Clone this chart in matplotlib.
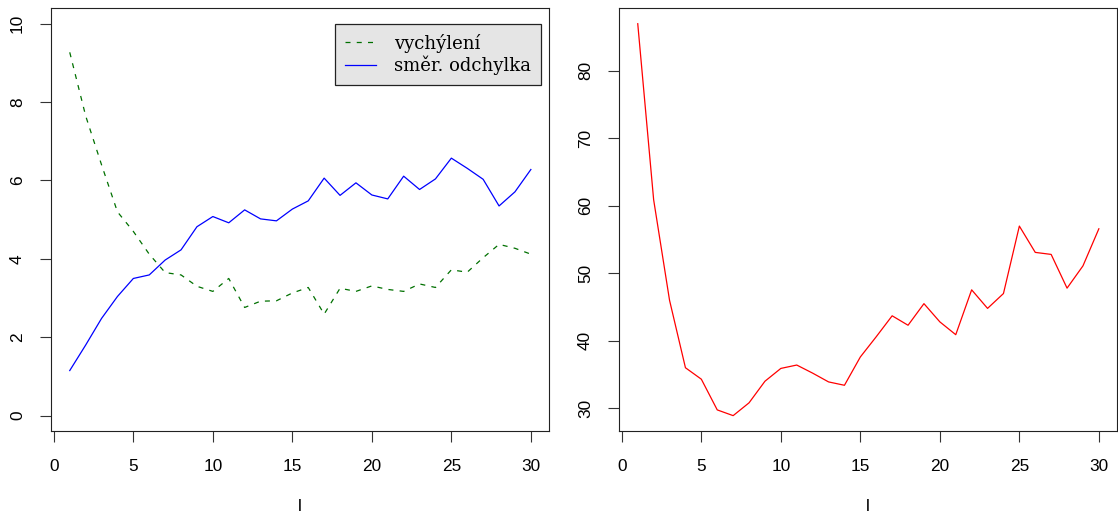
import numpy as np
import matplotlib
matplotlib.use("Agg")
import matplotlib.pyplot as plt

# data
l = np.arange(1, 31)
vychyleni = [9.27, 7.65, 6.4, 5.2, 4.7, 4.12, 3.65, 3.59, 3.3, 3.17,
             3.5, 2.76, 2.92, 2.93, 3.13, 3.27, 2.59, 3.25, 3.17, 3.31,
             3.22, 3.17, 3.36, 3.27, 3.72, 3.66, 4.03, 4.37, 4.27, 4.12]
odchylka = [1.15, 1.8, 2.48, 3.04, 3.5, 3.59, 3.97, 4.23, 4.82, 5.08,
            4.92, 5.25, 5.02, 4.97, 5.27, 5.48, 6.06, 5.62, 5.94, 5.63,
            5.53, 6.11, 5.77, 6.04, 6.57, 6.31, 6.03, 5.35, 5.71, 6.28]
prava = [87.0, 60.9, 46.0, 36.0, 34.3, 29.75, 28.9, 30.8, 34.0, 35.9,
         36.4, 35.2, 33.9, 33.4, 37.6, 40.6, 43.7, 42.3, 45.5, 42.8,
         40.9, 47.55, 44.8, 47.0, 57.0, 53.1, 52.8, 47.8, 51.1, 56.6]

plt.rcParams["font.family"] = ["Liberation Sans", "DejaVu Sans"]


def rlim(lo, hi):
    # R-style 4% padding
    d = (hi - lo) * 0.04
    return lo - d, hi + d


def style(ax):
    for s in ax.spines.values():
        s.set_linewidth(0.8)
        s.set_color("#222222")
    ax.tick_params(length=7.9, width=0.8, color="#333333", labelsize=12.4)
    ax.tick_params(axis="x", pad=12)
    ax.tick_params(axis="y", pad=11)
    for t in ax.get_yticklabels():
        t.set_rotation(90)
        t.set_va("center")
    ax.set_xlim(*rlim(1, 30))
    ax.set_xticks([0, 5, 10, 15, 20, 25, 30])
    ax.set_xlabel("l", fontsize=12.4, labelpad=18)


fig = plt.figure(figsize=(11.18, 5.15), dpi=100)
ax1 = fig.add_axes([51.3/1118, 0.1625, 498/1118, 0.8219])
ax2 = fig.add_axes([619.3/1118, 0.1625, 498/1118, 0.8219])

ax1.plot(l, vychyleni, color="#007000", lw=0.9, dashes=(4, 5), label="vychýlení")
ax1.plot(l, odchylka, color="blue", lw=0.9, label="směr. odchylka")
ax1.set_ylim(*rlim(0, 10))
ax1.set_yticks([0, 2, 4, 6, 8, 10])
style(ax1)
leg = ax1.legend(loc="upper right", bbox_to_anchor=(0.984, 0.963), borderaxespad=0,
                 fancybox=False, framealpha=1, facecolor="#e5e5e5", edgecolor="#222222",
                 prop={"family": "DejaVu Serif", "size": 13},
                 handlelength=1.75, handletextpad=1.0, borderpad=0.55, labelspacing=0.15)
leg.get_frame().set_linewidth(0.9)

ax2.plot(l, prava, color="red", lw=0.9)
ax2.set_ylim(*rlim(min(prava), max(prava)))
ax2.set_yticks([30, 40, 50, 60, 70, 80])
style(ax2)

fig.savefig("out.png", dpi=100)
